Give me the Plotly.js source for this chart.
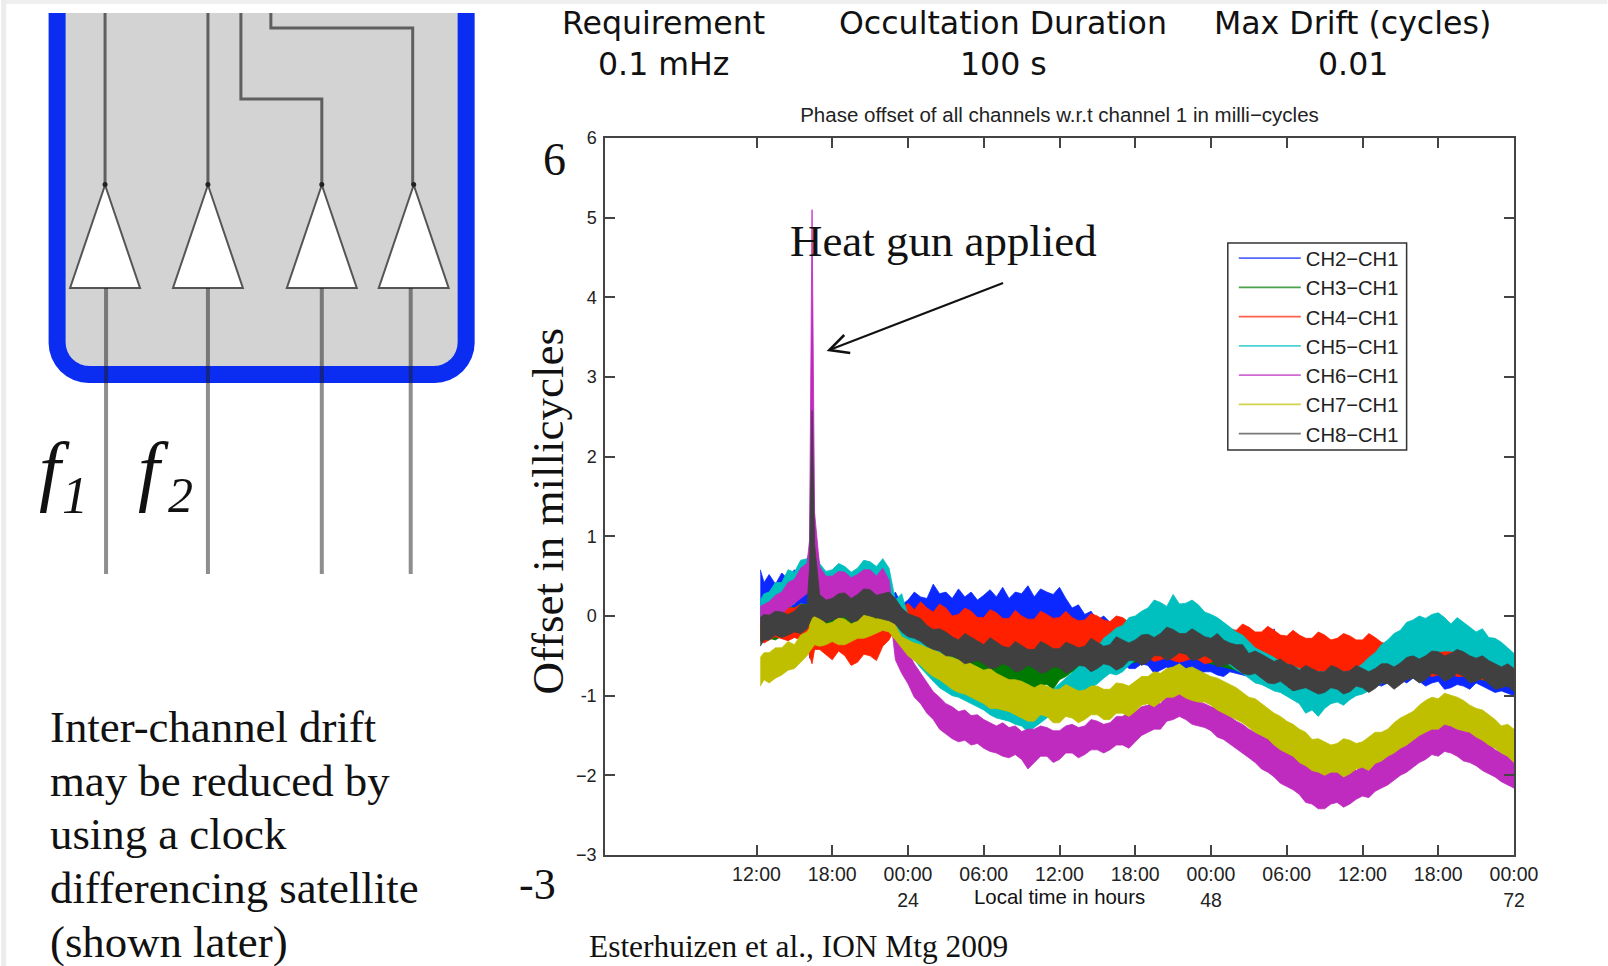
<!DOCTYPE html>
<html><head><meta charset="utf-8">
<script src="https://cdn.plot.ly/plotly-3.0.1.min.js"></script>
<style>html,body{margin:0;padding:0;background:#fff}#chart{width:1608px;height:966px}</style>
</head><body><div id="chart"></div>
<script>
const hours=[12.3,12.6,13,13.5,14,14.5,15,15.5,16,16.2,16.4,16.6,
17,17.5,18,18.5,19,19.5,20,20.5,21,21.5,22,22.5,23,23.5,24,24.5,25,25.5,26,26.5,
27,27.5,28,28.5,29,29.5,30,30.5,31,31.5,32,32.5,33,33.5,34,34.5,35,35.5,36,36.5,
37,37.5,38,38.5,39,39.5,40,40.5,41,41.5,42,42.5,43,43.5,44,44.5,45,45.5,46,46.5,
47,47.5,48,48.5,49,49.5,50,50.5,51,51.5,52,52.5,53,53.5,54,54.5,55,55.5,56,56.5,
57,57.5,58,58.5,59,59.5,60,60.5,61,61.5,62,62.5,63,63.5,64,64.5,65,65.5,66,66.5,
67,67.5,68,68.5,69,69.5,70,70.5,71,71.5,72];
const ch2Hi=[.58,.42,.52,.4,.54,.46,.58,.5,.62,.62,1.8,.5,
.38,.26,.32,.22,.34,.24,.31,.22,.33,.2,.3,.18,.3,.14,.2,.3,.24,.22,.4,.28,
.3,.22,.34,.24,.3,.2,.26,.33,.24,.36,.22,.3,.28,.38,.24,.34,.3,.27,.36,.22,
.1,.14,.02,.06,-.05,.0,-.08,-.12,-.2,-.15,-.22,-.17,-.24,-.18,-.2,-.16,-.22,-.26,-.21,-.25,
-.24,-.28,-.26,-.3,-.27,-.34,-.36,-.3,-.14,-.4,-.42,-.44,-.16,-.5,-.55,-.5,-.58,-.56,-.6,-.58,
-.64,-.6,-.62,-.66,-.64,-.6,-.6,-.62,-.6,-.55,-.55,-.5,-.52,-.46,-.48,-.5,-.46,-.44,-.42,-.46,
-.44,-.4,-.44,-.48,-.5,-.46,-.52,-.55,-.58,-.6,-.62];
const ch2Lo=[.0,.1,.06,.14,.08,.14,.1,.16,.14,-.53,.0,-.1,
-.12,-.1,-.12,-.08,-.1,-.13,-.14,-.1,-.1,-.12,-.12,-.08,-.12,-.1,-.1,-.06,-.1,-.14,-.1,-.06,
-.08,-.1,-.1,-.08,-.12,-.1,-.1,-.13,-.14,-.1,-.1,-.12,-.12,-.08,-.12,-.1,-.1,-.06,-.1,-.12,
-.2,-.22,-.25,-.3,-.35,-.45,-.55,-.6,-.58,-.66,-.66,-.6,-.62,-.72,-.68,-.64,-.72,-.76,-.68,-.7,
-.74,-.7,-.7,-.74,-.76,-.7,-.72,-.74,-.76,-.72,-.78,-.8,-.85,-.82,-.88,-.9,-.9,-.88,-.9,-.9,
-.92,-.9,-.9,-.92,-.92,-.9,-.88,-.9,-.85,-.88,-.84,-.82,-.8,-.84,-.78,-.82,-.88,-.84,-.82,-.92,
-.9,-.86,-.88,-.92,-.84,-.88,-.92,-.96,-.94,-.97,-1.0];
const ch3Hi=[.02,.05,.05,.09,.08,.12,.1,.15,.14,.2,2.0,.3,
.05,.03,.05,.1,.08,.04,.05,.1,.1,.05,.1,.03,-.05,-.1,-.12,-.16,-.2,-.22,-.28,-.27,
-.3,-.32,-.35,-.33,-.38,-.36,-.4,-.44,-.42,-.41,-.44,-.42,-.45,-.48,-.46,-.42,-.42,-.44,-.4,-.38,
-.38,-.4,-.38,-.35,-.36,-.4,-.38,-.33,-.34,-.3,-.32,-.28,-.3,-.32,-.28,-.3,-.3,-.28,-.3,-.31,
-.32,-.34,-.36,-.38,-.4,-.4,-.44,-.48,-.5,-.52,-.55,-.58,-.6,-.62,-.65,-.68,-.7,-.7,-.72,-.7,
-.72,-.7,-.7,-.73,-.72,-.7,-.68,-.66,-.66,-.64,-.62,-.6,-.58,-.56,-.55,-.54,-.52,-.5,-.5,-.52,
-.5,-.5,-.52,-.53,-.55,-.58,-.6,-.62,-.66,-.68,-.7];
const ch3Lo=[-.32,-.26,-.28,-.3,-.25,-.22,-.2,-.18,-.18,-.2,-.1,-.1,
-.2,-.22,-.2,-.17,-.18,-.2,-.2,-.16,-.15,-.18,-.15,-.2,-.3,-.34,-.4,-.42,-.48,-.5,-.55,-.58,
-.62,-.56,-.6,-.64,-.66,-.64,-.74,-.72,-.8,-.76,-.84,-.8,-.88,-.85,-.94,-.86,-.86,-.92,-.8,-.76,
-.7,-.7,-.68,-.72,-.66,-.66,-.64,-.62,-.62,-.6,-.58,-.55,-.55,-.52,-.52,-.5,-.5,-.52,-.5,-.53,
-.55,-.58,-.6,-.62,-.64,-.66,-.68,-.72,-.74,-.76,-.78,-.8,-.84,-.86,-.88,-.9,-.9,-.91,-.92,-.92,
-.92,-.92,-.9,-.9,-.92,-.9,-.88,-.88,-.86,-.84,-.82,-.8,-.78,-.76,-.74,-.73,-.72,-.72,-.7,-.72,
-.72,-.72,-.74,-.76,-.78,-.8,-.82,-.84,-.86,-.88,-.9];
const ch4Hi=[.0,.03,.03,.06,.05,.1,.1,.14,.12,.14,1.2,.2,
-.08,-.14,-.12,-.05,-.08,-.12,-.1,-.02,-.02,-.05,-.04,.02,.0,.1,.16,.08,.18,.1,.05,.15,
.1,.0,.02,.1,.06,-.02,-.02,.08,.04,-.03,-.03,.07,.0,-.04,-.04,.06,.02,-.03,-.02,.06,
-.02,-.06,-.05,.03,.0,-.05,-.07,.0,-.02,-.08,-.1,-.04,-.08,-.12,-.13,-.06,-.1,-.14,-.12,-.17,
-.15,-.1,-.13,-.18,-.12,-.16,-.18,-.1,-.14,-.2,-.2,-.13,-.18,-.24,-.25,-.18,-.24,-.28,-.28,-.2,
-.24,-.3,-.28,-.22,-.25,-.3,-.3,-.22,-.27,-.33,-.36,-.3,-.38,-.42,-.42,-.34,-.38,-.43,-.4,-.34,
-.38,-.42,-.42,-.36,-.42,-.46,-.48,-.42,-.46,-.44,-.5];
const ch4Lo=[-.3,-.34,-.3,-.26,-.28,-.31,-.27,-.3,-.3,-.5,-.6,-.42,
-.42,-.48,-.55,-.44,-.5,-.62,-.58,-.48,-.5,-.56,-.38,-.3,-.15,-.18,-.2,-.25,-.28,-.24,-.3,-.33,
-.35,-.4,-.38,-.36,-.4,-.44,-.42,-.38,-.4,-.47,-.45,-.4,-.42,-.48,-.46,-.42,-.44,-.46,-.48,-.5,
-.45,-.5,-.48,-.44,-.46,-.5,-.5,-.54,-.5,-.55,-.54,-.5,-.52,-.57,-.55,-.52,-.56,-.58,-.56,-.53,
-.55,-.6,-.58,-.54,-.56,-.6,-.6,-.58,-.6,-.62,-.62,-.66,-.64,-.62,-.68,-.72,-.7,-.68,-.72,-.74,
-.7,-.72,-.68,-.7,-.68,-.64,-.66,-.62,-.62,-.66,-.7,-.66,-.7,-.74,-.72,-.7,-.72,-.76,-.74,-.7,
-.72,-.76,-.76,-.74,-.76,-.8,-.8,-.78,-.8,-.84,-.85];
const ch5Hi=[.2,.28,.3,.42,.42,.58,.55,.7,.72,.8,3.2,1.0,
.66,.56,.58,.66,.62,.55,.6,.7,.68,.62,.72,.6,.2,.28,.0,-.08,-.22,-.28,-.38,-.42,
-.5,-.52,-.58,-.6,-.65,-.68,-.72,-.74,-.78,-.82,-.86,-.86,-.9,-.95,-1.0,-.96,-.95,-.92,-.85,-.78,
-.72,-.64,-.55,-.44,-.4,-.28,-.22,-.15,-.12,-.02,.0,.06,.1,.2,.17,.12,.27,.15,.16,.2,
.14,.05,.02,-.02,-.08,-.14,-.2,-.24,-.32,-.4,-.44,-.48,-.52,-.58,-.6,-.63,-.66,-.7,-.72,-.7,
-.7,-.74,-.74,-.7,-.7,-.66,-.6,-.52,-.46,-.36,-.3,-.22,-.18,-.08,-.05,.0,-.03,.02,.04,-.02,
-.1,-.02,-.08,-.14,-.2,-.16,-.27,-.28,-.33,-.4,-.47];
const ch5Lo=[-.1,-.04,-.02,.04,.05,.12,.15,.26,.3,.3,.3,.3,
.25,.22,.2,.24,.25,.2,.2,.25,.22,.26,.25,.15,-.1,-.28,-.4,-.55,-.65,-.74,-.82,-.9,
-.95,-1.0,-1.02,-1.06,-1.1,-1.14,-1.18,-1.24,-1.28,-1.3,-1.32,-1.36,-1.38,-1.46,-1.4,-1.34,-1.28,-1.2,-1.14,-1.1,
-1.05,-1.0,-.95,-.9,-.85,-.78,-.72,-.74,-.7,-.62,-.55,-.52,-.48,-.44,-.42,-.4,-.38,-.38,-.4,-.38,
-.42,-.46,-.5,-.54,-.58,-.62,-.68,-.72,-.78,-.84,-.86,-.9,-.94,-.96,-1.0,-1.05,-1.1,-1.22,-1.18,-1.26,
-1.16,-1.1,-1.08,-1.12,-1.05,-1.0,-.98,-.94,-.9,-.85,-.8,-.75,-.7,-.65,-.6,-.55,-.5,-.48,-.45,-.44,
-.44,-.48,-.5,-.53,-.56,-.6,-.65,-.68,-.72,-.78,-.82];
const ch6Hi=[.12,.15,.18,.26,.3,.42,.46,.6,.66,.95,5.1,1.3,
.62,.5,.5,.56,.55,.48,.52,.58,.58,.5,.6,.45,-.15,-.32,-.45,-.6,-.72,-.84,-.95,-1.02,
-1.1,-1.14,-1.2,-1.18,-1.25,-1.24,-1.3,-1.34,-1.38,-1.34,-1.4,-1.38,-1.45,-1.42,-1.42,-1.38,-1.4,-1.44,-1.44,-1.38,
-1.36,-1.4,-1.38,-1.3,-1.32,-1.36,-1.34,-1.26,-1.26,-1.2,-1.2,-1.14,-1.12,-1.06,-1.1,-1.0,-1.02,-.96,-1.02,-1.05,
-1.08,-1.1,-1.14,-1.16,-1.22,-1.26,-1.32,-1.36,-1.42,-1.46,-1.5,-1.54,-1.6,-1.66,-1.7,-1.72,-1.78,-1.84,-1.9,-1.88,
-1.95,-1.9,-1.96,-1.92,-1.9,-1.94,-1.88,-1.84,-1.8,-1.76,-1.72,-1.66,-1.62,-1.56,-1.52,-1.44,-1.42,-1.36,-1.38,-1.32,
-1.36,-1.38,-1.44,-1.46,-1.5,-1.56,-1.6,-1.68,-1.72,-1.76,-1.84];
const ch6Lo=[-.12,-.06,-.02,.0,.02,.1,.15,.22,.28,.3,.3,.3,
.2,.14,.16,.2,.22,.15,.18,.2,.2,.14,.24,.15,-.55,-.72,-.85,-1.02,-1.1,-1.22,-1.3,-1.42,
-1.48,-1.54,-1.58,-1.56,-1.62,-1.6,-1.66,-1.7,-1.72,-1.76,-1.78,-1.74,-1.8,-1.92,-1.84,-1.76,-1.76,-1.84,-1.8,-1.72,
-1.72,-1.78,-1.74,-1.68,-1.68,-1.72,-1.68,-1.62,-1.62,-1.66,-1.58,-1.5,-1.46,-1.42,-1.42,-1.32,-1.3,-1.26,-1.3,-1.36,
-1.38,-1.4,-1.44,-1.52,-1.55,-1.6,-1.66,-1.72,-1.78,-1.84,-1.92,-1.96,-2.02,-2.1,-2.14,-2.18,-2.24,-2.34,-2.36,-2.42,
-2.42,-2.36,-2.34,-2.4,-2.36,-2.3,-2.26,-2.28,-2.2,-2.16,-2.12,-2.06,-2.0,-1.96,-1.9,-1.84,-1.8,-1.74,-1.76,-1.7,
-1.72,-1.76,-1.82,-1.84,-1.88,-1.94,-1.98,-2.02,-2.08,-2.12,-2.16];
const ch7Hi=[-.52,-.46,-.46,-.4,-.4,-.32,-.36,-.24,-.2,-.15,1.6,.45,
.02,-.1,-.08,-.02,-.04,-.1,-.06,.02,.0,-.04,.05,-.02,-.12,-.26,-.3,-.34,-.36,-.4,-.42,-.46,
-.5,-.52,-.55,-.56,-.6,-.64,-.68,-.66,-.72,-.76,-.8,-.8,-.82,-.86,-.9,-.86,-.88,-.92,-.92,-.86,
-.9,-.94,-.93,-.88,-.88,-.92,-.92,-.84,-.85,-.88,-.82,-.76,-.76,-.7,-.72,-.66,-.64,-.6,-.66,-.64,
-.68,-.72,-.76,-.78,-.82,-.86,-.9,-.96,-1.02,-1.04,-1.1,-1.16,-1.22,-1.26,-1.32,-1.36,-1.42,-1.46,-1.55,-1.54,
-1.58,-1.62,-1.6,-1.54,-1.56,-1.6,-1.58,-1.52,-1.46,-1.46,-1.42,-1.34,-1.28,-1.24,-1.2,-1.12,-1.06,-1.02,-1.04,-.97,
-1.0,-1.02,-1.06,-1.12,-1.16,-1.18,-1.24,-1.3,-1.38,-1.36,-1.42];
const ch7Lo=[-.88,-.8,-.84,-.78,-.74,-.68,-.66,-.58,-.5,-.45,-.4,-.36,
-.38,-.36,-.32,-.36,-.36,-.32,-.28,-.28,-.25,-.22,-.18,-.2,-.3,-.4,-.5,-.56,-.62,-.7,-.76,-.8,
-.86,-.92,-.96,-.98,-1.02,-1.06,-1.1,-1.16,-1.16,-1.18,-1.2,-1.24,-1.28,-1.32,-1.32,-1.24,-1.26,-1.34,-1.34,-1.26,
-1.28,-1.34,-1.3,-1.24,-1.24,-1.3,-1.3,-1.22,-1.22,-1.26,-1.2,-1.12,-1.1,-1.14,-1.08,-1.02,-1.02,-.98,-1.03,-1.06,
-1.08,-1.08,-1.12,-1.18,-1.22,-1.26,-1.3,-1.34,-1.4,-1.46,-1.5,-1.54,-1.62,-1.68,-1.72,-1.76,-1.84,-1.88,-1.94,-1.96,
-2.0,-1.96,-1.96,-2.02,-1.98,-1.92,-1.9,-1.94,-1.85,-1.82,-1.76,-1.72,-1.66,-1.62,-1.56,-1.5,-1.46,-1.42,-1.42,-1.36,
-1.38,-1.42,-1.44,-1.46,-1.52,-1.56,-1.62,-1.66,-1.72,-1.76,-1.84];
const ch8Hi=[-.02,.02,.01,.06,.05,.02,.06,.14,.13,.6,2.58,.9,
.27,.2,.22,.28,.29,.22,.27,.34,.33,.26,.28,.3,.22,.1,.03,.0,-.03,-.12,-.17,-.16,
-.2,-.26,-.3,-.22,-.27,-.32,-.36,-.27,-.33,-.38,-.4,-.32,-.37,-.42,-.42,-.32,-.36,-.41,-.41,-.33,
-.36,-.4,-.38,-.28,-.33,-.38,-.36,-.26,-.3,-.34,-.3,-.24,-.23,-.27,-.22,-.14,-.17,-.22,-.22,-.16,
-.21,-.26,-.28,-.22,-.3,-.34,-.36,-.36,-.47,-.44,-.48,-.52,-.57,-.54,-.6,-.62,-.68,-.62,-.66,-.7,
-.7,-.62,-.65,-.7,-.69,-.62,-.66,-.7,-.66,-.6,-.6,-.64,-.59,-.52,-.5,-.54,-.5,-.44,-.45,-.5,
-.47,-.42,-.45,-.5,-.53,-.5,-.56,-.6,-.64,-.6,-.66];
const ch8Lo=[-.38,-.3,-.3,-.24,-.27,-.24,-.2,-.22,-.16,-.1,-.02,0,
-.03,-.08,-.05,-.02,-.01,-.08,-.06,.02,.0,-.02,-.04,-.06,-.1,-.2,-.26,-.28,-.32,-.38,-.42,-.44,
-.5,-.5,-.54,-.6,-.58,-.56,-.6,-.66,-.65,-.6,-.63,-.7,-.68,-.62,-.66,-.72,-.7,-.64,-.65,-.72,
-.68,-.62,-.63,-.7,-.66,-.6,-.62,-.68,-.64,-.56,-.56,-.62,-.58,-.5,-.5,-.56,-.52,-.46,-.48,-.56,
-.54,-.5,-.54,-.64,-.62,-.6,-.66,-.72,-.74,-.72,-.78,-.84,-.85,-.82,-.88,-.94,-.92,-.9,-.94,-.98,
-.96,-.9,-.92,-.98,-.95,-.88,-.9,-.96,-.91,-.84,-.85,-.92,-.86,-.8,-.78,-.84,-.8,-.72,-.74,-.82,
-.78,-.72,-.76,-.84,-.82,-.78,-.85,-.92,-.9,-.88,-.95];
const seriesNames=['CH2−CH1','CH3−CH1','CH4−CH1','CH5−CH1','CH6−CH1','CH7−CH1','CH8−CH1'];
const seriesColors=['#0a28ff','#007a00','#ff2000','#00bfbf','#bf2abf','#bfbf00','#404040'];
const seriesHi=[ch2Hi,ch3Hi,ch4Hi,ch5Hi,ch6Hi,ch7Hi,ch8Hi];
const seriesLo=[ch2Lo,ch3Lo,ch4Lo,ch5Lo,ch6Lo,ch7Lo,ch8Lo];
const xTickVals=[12,18,24,30,36,42,48,54,60,66,72];
const xTickText=['12:00','18:00','00:00<br>24','06:00','12:00','18:00','00:00<br>48','06:00','12:00','18:00','00:00<br>72'];
const yTickVals=[-3,-2,-1,0,1,2,3,4,5,6];
const yTickText=['−3','−2','-1','0','1','2','3','4','5','6'];
const bodyLines=['Inter-channel drift','may be reduced by','using a clock','differencing satellite','(shown later)'];
const bodyY=[727,781,834,888,942];

seriesHi.concat(seriesLo).forEach((a,i)=>{if(a.length!==hours.length)throw new Error('length '+i+': '+a.length+' vs '+hours.length);});

const W=1608,H=966,L=604.5,R=1514.5,T=138,B=855;
const px=x=>(x-L)/(R-L), py=y=>(B-y)/(B-T);
const SERIF='"Liberation Serif",serif', SANS='"Liberation Sans",sans-serif', DJV='"DejaVu Sans",sans-serif';

const traces=[];
seriesNames.forEach((n,i)=>{
  traces.push({x:hours.concat(hours.slice().reverse()),y:seriesHi[i].concat(seriesLo[i].slice().reverse()),
    mode:'lines',fill:'toself',fillcolor:seriesColors[i],line:{color:seriesColors[i],width:.8},
    showlegend:false,hoverinfo:'skip',name:n});
});
seriesNames.forEach((n,i)=>{
  traces.push({x:[null],y:[null],mode:'lines',name:n,legendgroup:n,opacity:.7,line:{color:seriesColors[i],width:1.8}});
});

const P=(pts,close)=>pts.map((p,i)=>(i?'L':'M')+px(p[0]).toFixed(5)+','+py(p[1]).toFixed(5)).join(' ')+(close?' Z':'');
const shapes=[];
const pathShape=(pts,o)=>shapes.push({type:'path',xref:'paper',yref:'paper',path:P(pts,o.close),line:{color:o.color||'rgba(0,0,0,0)',width:o.width||0},fillcolor:o.fill||'rgba(0,0,0,0)'});
pathShape([[0,0],[W,0],[W,4],[0,4]],{close:true,fill:'#efefef'});
pathShape([[0,0],[5,0],[5,H],[0,H]],{close:true,fill:'#ececec'});
const round=(x0,x1,b,r)=>{const a=[[x0,13]];for(let k=0;k<=8;k++){const t=k/8*Math.PI/2;a.push([x0+r-r*Math.cos(t),b-r+r*Math.sin(t)]);}for(let k=8;k>=0;k--){const t=k/8*Math.PI/2;a.push([x1-r+r*Math.cos(t),b-r+r*Math.sin(t)]);}a.push([x1,13]);return a;};
pathShape(round(56,465.5,374.5,32),{close:true,fill:'#d3d3d3'});
pathShape(round(56,465.5,374.5,32),{color:'#0b2df2',width:17});
const wire='#5f5f5f';
[[ [104,13],[104,185] ],[ [207,13],[207,185] ],
 [ [240,13],[240,99],[321,99],[321,185] ],[ [270,13],[270,28],[412,28],[412,185] ]].forEach(w=>pathShape(w,{color:wire,width:3}));
[104,207,321,413].forEach(x=>{pathShape([[x,185],[x-35,288],[x+35,288]],{close:true,fill:'#fff',color:'#555',width:2});
  shapes.push({type:'circle',xref:'paper',yref:'paper',x0:px(x-2.5),x1:px(x+2.5),y0:py(187),y1:py(182),fillcolor:'#222',line:{width:0}});});
[105,207,321,410].forEach(x=>pathShape([[x,288],[x,574]],{color:'rgba(30,30,30,0.5)',width:4}));
// arrow
pathShape([[1003,283],[829,350]],{color:'#111',width:2});
pathShape([[844,335],[829,350],[850,353]],{color:'#111',width:2.5});
// legend frame
pathShape([[1228,243],[1407,243],[1407,450],[1228,450]],{close:true,fill:'#fff',color:'#333',width:1.5});

const annotations=[];
const ann=(text,x,y,size,family,anchor,extra)=>annotations.push(Object.assign({text,x:px(x),y:py(y),xref:'paper',yref:'paper',showarrow:false,xanchor:anchor||'center',yanchor:'middle',font:{family,size,color:'#111'}},extra||{}));
ann('Requirement',663,23,31.6,DJV); ann('0.1 mHz',663,64,31.6,DJV);
ann('Occultation Duration',1003,23,31.6,DJV); ann('100 s',1003,64,31.6,DJV);
ann('Max Drift (cycles)',1353,23,31.6,DJV); ann('0.01',1353,64,31.6,DJV);
ann('Heat gun applied',943,241,44.9,SERIF);
ann('Offset in millicycles',547,511,45,SERIF,'center',{textangle:-90});
ann('6',554,159,46,SERIF); ann('-3',537,884,44,SERIF);
ann('Local time in hours',1059,897,20.4,SANS);
ann('Esterhuizen et al., ION Mtg 2009',586,946,31.4,SERIF,'left');
bodyLines.forEach((t,i)=>ann(t,47,bodyY[i],44.8,SERIF,'left'));
ann('<i>f</i>',53,469,78,SERIF); ann('<i>1</i>',74,495,52,SERIF);
ann('<i>f</i>',153,469,78,SERIF); ann('<i>2</i>',180,495,50,SERIF);

const layout={width:W,height:H,margin:{l:L,r:W-R,t:T,b:H-B},paper_bgcolor:'#fff',plot_bgcolor:'#fff',
 title:{text:'Phase offset of all channels w.r.t channel 1 in milli−cycles',font:{family:SANS,size:20.5,color:'#222'},x:(L+R)/2/W,xanchor:'center',y:1-115/H,yanchor:'middle'},
 xaxis:{range:[0,72],tickmode:'array',tickvals:xTickVals,ticktext:xTickText,ticks:'inside',ticklen:10,tickwidth:1.5,tickcolor:'#444',showgrid:false,zeroline:false,showline:true,linecolor:'#444',linewidth:1.5,mirror:'allticks',tickangle:0,ticklabelstandoff:1,tickfont:{family:SANS,size:19.5,color:'#222'}},
 yaxis:{range:[-3,6],tickmode:'array',tickvals:yTickVals,ticktext:yTickText,ticks:'inside',ticklen:10,tickwidth:1.5,tickcolor:'#444',showgrid:false,zeroline:false,showline:true,linecolor:'#444',linewidth:1.5,mirror:'allticks',ticklabelstandoff:3,tickfont:{family:SANS,size:18,color:'#222'}},
 legend:{x:px(1234),y:py(238.5),xanchor:'left',yanchor:'top',bgcolor:'rgba(0,0,0,0)',borderwidth:0,font:{family:SANS,size:20.2,color:'#222'},itemwidth:62,traceorder:'grouped',tracegroupgap:0,itemclick:false},
 shapes,annotations,hovermode:false};
Plotly.newPlot('chart',traces,layout,{displayModeBar:false,responsive:false});
</script></body></html>
